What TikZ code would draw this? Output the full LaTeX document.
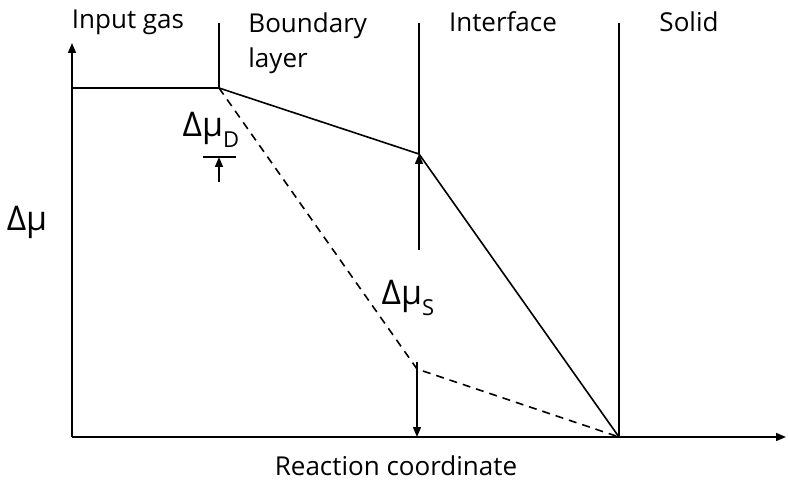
\documentclass[tikz,border=0pt]{standalone}
\usepackage{fontspec}
\setmainfont{Open Sans}
\usetikzlibrary{arrows.meta}

\tikzset{
  lbl/.style={font=\fontsize{13}{17.5}\selectfont, inner sep=1pt},
  sym/.style={font=\fontsize{17}{20}\selectfont, inner sep=1pt},
  curve/.style={line width=0.8pt},
  guide/.style={line width=0.8pt},
  tip/.style={-{Triangle[length=5pt, width=4pt]}, line width=0.8pt}
}
\newcommand{\sub}[1]{\raisebox{-0.6ex}{\fontsize{11}{12}\selectfont #1}}

\begin{document}
\begin{tikzpicture}[x=0.5pt, y=-0.5pt]
  \useasboundingbox (0,0) rectangle (788,481);

  % === Key points ===
  \coordinate (O) at (72,437);
  \coordinate (ytop) at (72,43);
  \coordinate (xend) at (786,437);
  \coordinate (A) at (72,88);
  \coordinate (B) at (219,88);
  \coordinate (Btop) at (219,23);
  \coordinate (C) at (419,154);
  \coordinate (Ctop) at (419,23);
  \coordinate (S) at (619,437);
  \coordinate (Stop) at (619,23);
  \coordinate (K) at (417,369);

  % === Axes ===
  \draw[tip] (O) -- (ytop);
  \draw[tip] (O) -- (xend);

  % === Region boundaries ===
  \draw[guide] (B) -- (Btop);
  \draw[guide] (C) -- (Ctop);
  \draw[guide] (S) -- (Stop);

  % === Profile: plateau, boundary layer, interface ===
  \draw[curve] (A) -- (B) -- (C) -- (S);

  % === Dashed alternative profile ===
  \draw[curve, dash pattern=on 4pt off 3pt] (B) -- (K) -- (S);

  % === Delta mu_D marker ===
  \coordinate (dl) at (203,157);
  \coordinate (dr) at (236,157);
  \coordinate (dbot) at (219,182);
  \coordinate (dtop) at (219,157);
  \draw[guide] (dl) -- (dr);
  \draw[tip] (dbot) -- (dtop);

  % === Delta mu_S arrows ===
  \coordinate (sup) at (419,250);
  \coordinate (sdn) at (417,362);
  \coordinate (sbot) at (417,437);
  \draw[tip] (sup) -- (C);
  \draw[tip] (sdn) -- (sbot);

  % === Labels ===
  \node[lbl] (gas) at (128,22) {Input gas};
  \node[lbl, align=left, anchor=north west] (bl) at (246,10) {Boundary\\layer};
  \node[lbl] (itf) at (503,22) {Interface};
  \node[lbl] (sol) at (689,22) {Solid};
  \node[sym] (dmu) at (27,222) {Δμ};
  \node[sym] (dmuD) at (211,130) {Δμ\sub{D}};
  \node[sym] (dmuS) at (408,298) {Δμ\sub{S}};
  \node[lbl] (rc) at (396,466) {Reaction coordinate};

\end{tikzpicture}
\end{document}
